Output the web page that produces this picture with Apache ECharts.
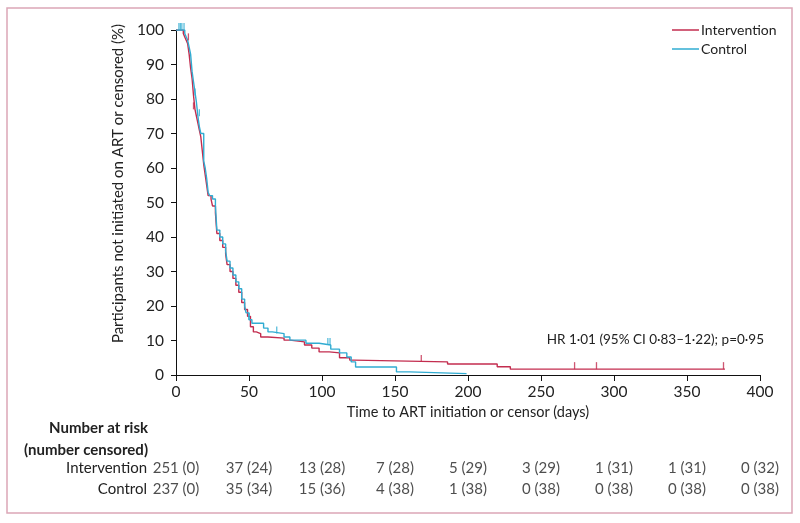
<!DOCTYPE html>
<html>
<head>
<meta charset="utf-8">
<title>Time to ART initiation</title>
<script src="https://cdn.jsdelivr.net/npm/echarts/dist/echarts.min.js"></script>
<style>
  html, body { margin: 0; padding: 0; background: #fff; }
  #chart { width: 800px; height: 523px; }
</style>
</head>
<body>
<div id="chart"></div>
<script>
// Kaplan-Meier steps: [day, % not initiated on ART or censored]
let interventionSteps = [
  [0, 100], [5, 99], [6, 98], [7, 97], [8, 96], [9, 93], [10, 89], [11, 86],
  [12, 81], [13, 77], [14, 75], [15, 73], [16, 71], [17, 69], [18, 65], [19, 61],
  [20, 58], [21, 55], [22, 52], [24, 51], [25, 49], [27, 47], [28, 41], [30, 39],
  [32, 37], [34, 35], [35, 32], [37, 30], [39, 28], [41, 26], [43, 24], [45, 21],
  [47, 19], [49, 17], [51, 14], [53, 12.5], [55, 12], [58, 11], [63, 10.7],
  [74, 10.1], [78, 9.6], [88, 8.7], [93, 7.8], [98, 6.7], [105, 6.4], [112, 5],
  [119, 4.3], [122, 3.8], [186, 3.2], [220, 2.4], [229, 1.7], [376, 1.7]
]
let controlSteps = [
  [0, 100], [6, 99], [7, 98], [8, 97], [9, 95], [10, 93], [11, 88], [12, 85],
  [13, 82], [14, 79], [15, 75], [16, 72], [17, 70], [19, 62], [20, 60], [21, 57],
  [22, 53], [23, 52], [25, 51], [27, 49], [28, 42], [30, 40], [32, 38], [34, 36],
  [35, 33], [37, 31], [39, 29], [41, 27], [43, 25], [45, 22], [47, 20], [48, 18],
  [50, 16], [52, 15], [60, 13.6], [63, 12.5], [66, 12], [74, 11], [78, 10.1],
  [89, 9.2], [98, 8.7], [106, 7.5], [112, 6.4], [117, 5.2], [120, 3.8], [123, 2.3],
  [151, 0.9], [160, 0.4], [199, 0.4]
]
// censor marks that can be seen
let interventionCensored = [[8.5, 97], [12, 77], [168, 3.8], [273, 1.7], [288, 1.7], [375, 1.7]]
let controlCensored = [[2, 100], [3, 100], [4, 100], [5.5, 100], [13, 81], [16, 75], [50, 16], [69, 12], [104, 8.7], [105.5, 8.7]]

// number at risk table
let riskTimes = [0, 50, 100, 150, 200, 250, 300, 350, 400]
let interventionAtRisk = [251, 37, 13, 7, 5, 3, 1, 1, 0]
let interventionCens = [0, 24, 28, 28, 29, 29, 31, 31, 32]
let controlAtRisk = [237, 35, 15, 4, 1, 0, 0, 0, 0]
let controlCens = [0, 34, 36, 38, 38, 38, 38, 38, 38]
let groups = ['Control', 'Intervention']

let red = '#c32d4f'
let blue = '#31acd2'
let ink = '#222'
let font = 'Lato, "Open Sans", sans-serif'

let mychart = echarts.init(document.querySelector('#chart'))

// rows of the number-at-risk table
let tableData = []
riskTimes.forEach(function(t, i) {
  tableData.push([t, 'Intervention', interventionAtRisk[i] + ' (' + interventionCens[i] + ')'])
  tableData.push([t, 'Control', controlAtRisk[i] + ' (' + controlCens[i] + ')'])
})

function censorSeries(name, data, color) {
  return {
    name: name,
    type: 'scatter',
    xAxisIndex: 0,
    yAxisIndex: 0,
    symbol: 'rect',
    symbolSize: [1.3, 7],
    symbolOffset: [0, -3.5],
    itemStyle: { color: color },
    silent: true,
    z: 3,
    data: data
  }
}

let option = {
  backgroundColor: '#fff',
  animation: false,
  textStyle: { fontFamily: font, color: ink },
  legend: {
    data: ['Intervention', 'Control'],
    orient: 'vertical',
    left: 667,
    top: 18,
    icon: 'rect',
    itemWidth: 27,
    itemHeight: 1.5,
    itemGap: 5,
    textStyle: { fontSize: 14, color: ink, fontFamily: font, padding: [0, 0, 0, -3] }
  },
  grid: [
    { left: 176, right: 40, top: 30, bottom: 148 },
    { left: 176, right: 40, top: 458, height: 42 }
  ],
  xAxis: [
    {
      type: 'value',
      gridIndex: 0,
      min: 0,
      max: 400,
      interval: 50,
      name: 'Time to ART initiation or censor (days)',
      nameLocation: 'middle',
      nameGap: 29,
      nameTextStyle: { fontSize: 14.5, color: ink },
      axisLine: { lineStyle: { color: '#111', width: 1 } },
      axisTick: { length: 6, lineStyle: { color: '#111' } },
      axisLabel: { fontSize: 15.5, color: ink, margin: 9 },
      splitLine: { show: false }
    },
    {
      type: 'value',
      gridIndex: 1,
      min: 0,
      max: 400,
      show: false
    }
  ],
  yAxis: [
    {
      type: 'value',
      gridIndex: 0,
      min: 0,
      max: 100,
      interval: 10,
      name: 'Participants not initiated on ART or censored (%)',
      nameLocation: 'middle',
      nameGap: 46,
      nameTextStyle: { fontSize: 15, color: ink, padding: [0, 0, 0, 38] },
      axisLine: { show: true, lineStyle: { color: '#111', width: 1 } },
      axisTick: { show: true, length: 5, lineStyle: { color: '#111' } },
      axisLabel: { fontSize: 15.5, color: ink, margin: 12 },
      splitLine: { show: false }
    },
    {
      type: 'category',
      gridIndex: 1,
      data: groups,
      axisLine: { show: false },
      axisTick: { show: false },
      axisLabel: { fontSize: 15, color: ink, margin: 29 }
    }
  ],
  graphic: [
    {
      type: 'rect',
      shape: { x: 7, y: 8, width: 785, height: 505 },
      style: { fill: 'none', stroke: '#dba7b7', lineWidth: 1.5 },
      silent: true
    },
    {
      type: 'text',
      x: 148,
      y: 428,
      style: { text: 'Number at risk', align: 'right', verticalAlign: 'middle', font: 'bold 15px ' + font, fill: ink }
    },
    {
      type: 'text',
      x: 148,
      y: 450,
      style: { text: '(number censored)', align: 'right', verticalAlign: 'middle', font: 'bold 15px ' + font, fill: ink }
    },
    {
      type: 'text',
      x: 764,
      y: 340,
      style: { text: 'HR 1·01 (95% CI 0·83–1·22); p=0·95', align: 'right', verticalAlign: 'middle', font: '13.5px ' + font, fill: ink }
    }
  ],
  series: [
    {
      name: 'Intervention',
      type: 'line',
      step: 'end',
      showSymbol: false,
      lineStyle: { color: red, width: 1.4 },
      itemStyle: { color: red },
      silent: true,
      z: 2,
      data: interventionSteps
    },
    {
      name: 'Control',
      type: 'line',
      step: 'end',
      showSymbol: false,
      lineStyle: { color: blue, width: 1.4 },
      itemStyle: { color: blue },
      silent: true,
      z: 2,
      data: controlSteps
    },
    censorSeries('Intervention censored', interventionCensored, red),
    censorSeries('Control censored', controlCensored, blue),
    {
      name: 'Number at risk',
      type: 'scatter',
      xAxisIndex: 1,
      yAxisIndex: 1,
      symbolSize: 0,
      silent: true,
      label: {
        show: true,
        position: 'inside',
        fontSize: 15,
        color: ink,
        fontFamily: font,
        formatter: function(p) {
          return p.value[2]
        }
      },
      data: tableData
    }
  ]
}

mychart.setOption(option)
</script>
</body>
</html>
